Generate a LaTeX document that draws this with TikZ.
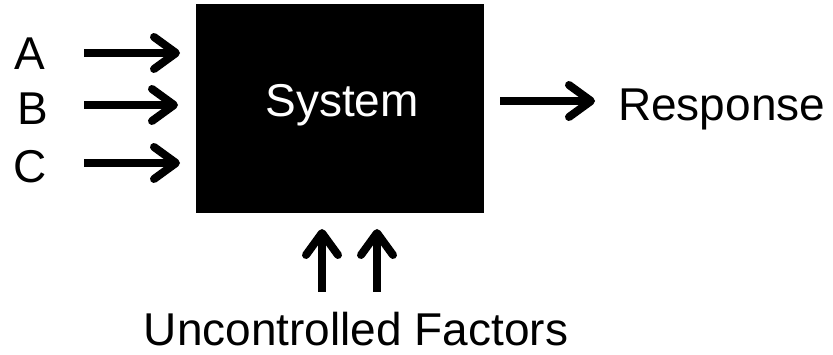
\documentclass[tikz,border=0pt]{standalone}
\usepackage{fontspec}
\setmainfont{Liberation Sans}
\usetikzlibrary{arrows.meta}
\begin{document}
\begin{tikzpicture}[x=1pt,y=-1pt,
  lbl/.style={inner sep=0pt, anchor=base, font=\fontsize{46}{50}\selectfont},
  flow/.style={line width=8pt, -{Straight Barb[round, length=22pt, width=32pt, line width=8pt]}},
  sysbox/.style={fill=black, draw=none, minimum width=288pt, minimum height=209pt, inner sep=0pt}]
  \useasboundingbox (0,0) rectangle (833,355);
  % the black box
  \node[sysbox] (sys) at (340,108.5) {};
  \node[lbl, text=white] (systxt) at (342,117) {System};
  % inputs
  \node[lbl] (a) at (30,70) {A};
  \node[lbl] (b) at (33,125) {B};
  \node[lbl] (c) at (30,183) {C};
  \coordinate (a0) at (84,53);  \coordinate (a1) at (180,53);
  \coordinate (b0) at (84,105); \coordinate (b1) at (178,105);
  \coordinate (c0) at (84,163); \coordinate (c1) at (180,163);
  \draw[flow] (a0) -- (a1);
  \draw[flow] (b0) -- (b1);
  \draw[flow] (c0) -- (c1);
  % output
  \node[lbl, anchor=base west] (resp) at (618,121) {Response};
  \coordinate (r0) at (500,101); \coordinate (r1) at (595,101);
  \draw[flow] (r0) -- (r1);
  % uncontrolled factors
  \node[lbl] (unc) at (356,345) {Uncontrolled Factors};
  \coordinate (u0) at (322,292); \coordinate (u1) at (322,229);
  \coordinate (v0) at (377,292); \coordinate (v1) at (377,229);
  \draw[flow] (u0) -- (u1);
  \draw[flow] (v0) -- (v1);
\end{tikzpicture}
\end{document}
